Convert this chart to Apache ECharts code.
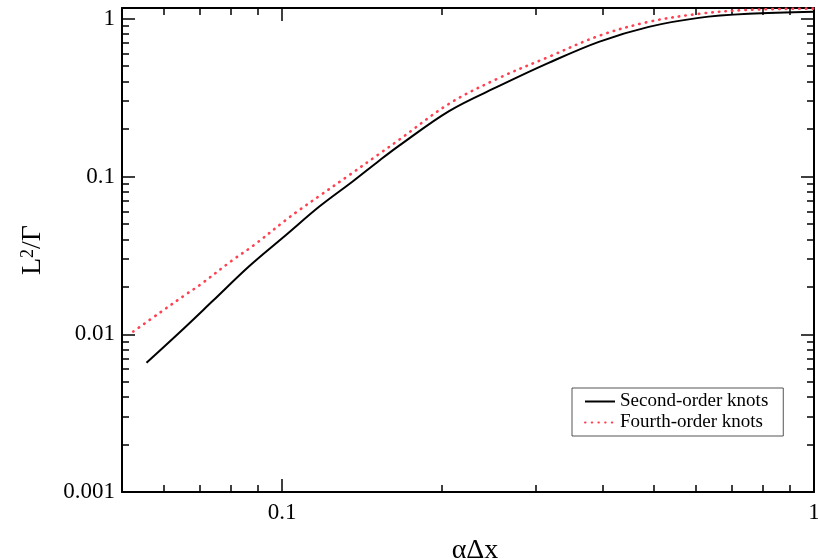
<!DOCTYPE html>
<html>
<head>
<meta charset="utf-8">
<script src="https://cdn.jsdelivr.net/npm/echarts@6/dist/echarts.min.js"></script>
<style>
  html, body { margin: 0; padding: 0; background: #fff; }
  #chart { width: 818px; height: 559px; }
</style>
</head>
<body>
<div id="chart"></div>
<script>
// values (log-log axes)
const secondX = [0.0556, 0.0642, 0.0741, 0.0868, 0.1017, 0.1175, 0.1357, 0.1522, 0.166, 0.206, 0.256, 0.317, 0.394, 0.489, 0.607, 0.753, 1.0];
const secondY = [0.0066, 0.0103, 0.0163, 0.0271, 0.0426, 0.0645, 0.0930, 0.126, 0.157, 0.260, 0.375, 0.525, 0.714, 0.888, 1.013, 1.074, 1.106];
const fourthX = [0.0525, 0.0589, 0.0661, 0.0700, 0.0808, 0.0881, 0.1017, 0.1078, 0.1175, 0.1337, 0.1522, 0.166, 0.206, 0.256, 0.317, 0.394, 0.489, 0.607, 0.753, 1.0];
const fourthY = [0.0104, 0.0137, 0.0180, 0.0205, 0.0296, 0.0363, 0.0531, 0.0614, 0.0753, 0.102, 0.139, 0.171, 0.289, 0.422, 0.573, 0.779, 0.956, 1.074, 1.139, 1.16];

const xMajor = [0.1, 1];
const xMinor = [0.06, 0.07, 0.08, 0.09, 0.2, 0.3, 0.4, 0.5, 0.6, 0.7, 0.8, 0.9];
const yMajor = [0.001, 0.01, 0.1, 1];
const yMinor = [0.002, 0.003, 0.004, 0.005, 0.006, 0.007, 0.008, 0.009,
  0.02, 0.03, 0.04, 0.05, 0.06, 0.07, 0.08, 0.09,
  0.2, 0.3, 0.4, 0.5, 0.6, 0.7, 0.8, 0.9];

const FONT = 'Liberation Serif';
const X_MIN = 0.05, X_MAX = 1;
const Y_MIN = 0.001, Y_MAX = 1.17;

function fmt(v) { return String(+Number(v).toPrecision(3)); }

// one axis = major ticks (long) or minor ticks (short), drawn on top of each other
function xAx(position, ticks, len, withLine, withLabels) {
  return {
    type: 'log', logBase: 10, position: position, min: X_MIN, max: X_MAX,
    axisLine: { show: withLine, onZero: false, lineStyle: { color: '#000', width: 2 } },
    axisTick: { show: true, inside: true, length: len, customValues: ticks, lineStyle: { color: '#000', width: 1.5 } },
    axisLabel: { show: withLabels, customValues: ticks, formatter: fmt, margin: 9,
      color: '#000', fontFamily: FONT, fontSize: 23 },
    splitLine: { show: false }, minorTick: { show: false }
  };
}
function yAx(position, ticks, len, withLine, withLabels) {
  return {
    type: 'log', logBase: 10, position: position, min: Y_MIN, max: Y_MAX,
    axisLine: { show: withLine, onZero: false, lineStyle: { color: '#000', width: 2 } },
    axisTick: { show: true, inside: true, length: len, customValues: ticks, lineStyle: { color: '#000', width: 1.5 } },
    axisLabel: { show: withLabels, customValues: ticks, formatter: fmt, margin: 7,
      color: '#000', fontFamily: FONT, fontSize: 23 },
    splitLine: { show: false }, minorTick: { show: false }
  };
}

const xAxes = [
  xAx('bottom', xMajor, 13, true, true),
  xAx('bottom', xMinor, 7, false, false),
  xAx('top', xMajor, 13, true, false),
  xAx('top', xMinor, 7, false, false)
];
Object.assign(xAxes[0], {
  name: 'αΔx', nameLocation: 'middle', nameGap: 45,
  nameTextStyle: { color: '#000', fontFamily: FONT, fontSize: 28, padding: [0, 0, 0, 14] }
});

const yAxes = [
  yAx('left', yMajor, 13, true, true),
  yAx('left', yMinor, 7, false, false),
  yAx('right', yMajor, 13, true, false),
  yAx('right', yMinor, 7, false, false)
];
Object.assign(yAxes[0], {
  name: 'L{sup|2}/Γ', nameLocation: 'middle', nameGap: 75, nameRotate: 90,
  nameTextStyle: { color: '#000', fontFamily: FONT, fontSize: 28,
    rich: { sup: { fontFamily: FONT, fontSize: 18, verticalAlign: 'top', padding: [0, 0, 10, 0] } } }
});

const chart = echarts.init(document.getElementById('chart'), null, { renderer: 'canvas' });
chart.setOption({
  animation: false,
  backgroundColor: '#fff',
  grid: { left: 122, right: 4, top: 8, bottom: 67, containLabel: false, outerBoundsMode: 'none' },
  xAxis: xAxes,
  yAxis: yAxes,
  legend: {
    orient: 'vertical', left: 572, top: 388,
    itemWidth: 30, itemHeight: 10, itemGap: 2,
    padding: [4, 15, 4, 12],
    borderColor: '#555', borderWidth: 1,
    itemStyle: { opacity: 0 },
    textStyle: { color: '#000', fontFamily: FONT, fontSize: 19 },
    data: ['Second-order knots', 'Fourth-order knots']
  },
  series: [
    {
      name: 'Second-order knots', type: 'line', xAxisIndex: 0, yAxisIndex: 0,
      symbol: 'none', smooth: 0.35,
      lineStyle: { color: '#000', width: 2 },
      itemStyle: { color: '#000' },
      data: secondX.map((x, i) => [x, secondY[i]])
    },
    {
      name: 'Fourth-order knots', type: 'line', xAxisIndex: 0, yAxisIndex: 0,
      symbol: 'none', smooth: 0.35, z: 3,
      lineStyle: { color: '#ff4050', width: 2.6, type: [0.5, 6.2], cap: 'round' },
      itemStyle: { color: '#ff4050' },
      data: fourthX.map((x, i) => [x, fourthY[i]])
    }
  ]
});
</script>
</body>
</html>
